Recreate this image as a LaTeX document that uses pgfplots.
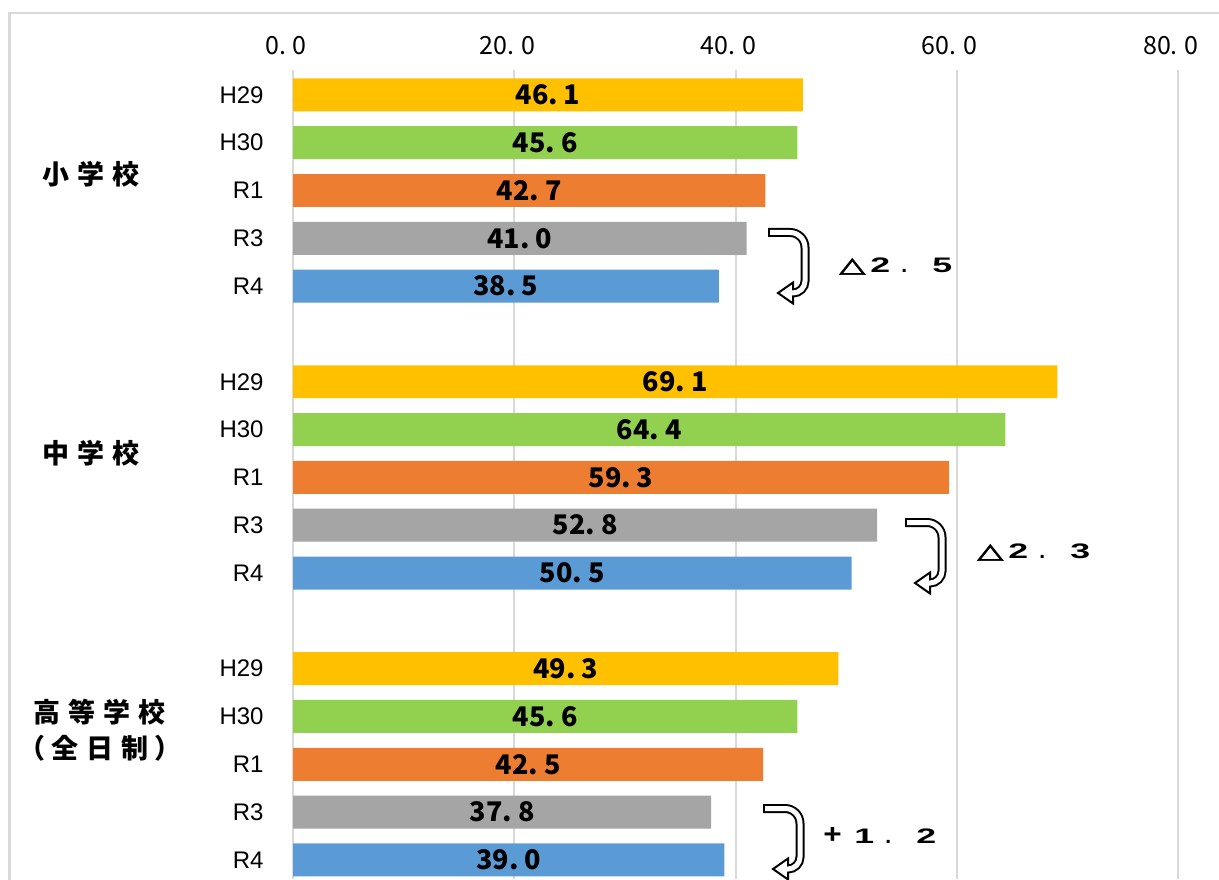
\documentclass[border=0pt]{standalone}
\usepackage{fontspec}
\usepackage{graphicx}
\usepackage{pgfplots}
\pgfplotsset{compat=1.18}
\usepackage{pgfplotstable}
\setmainfont{Liberation Sans}
\newfontfamily\jp{Noto Sans CJK JP}
\newfontfamily\trif[FakeBold=3]{DejaVu Sans}
\definecolor{cA}{HTML}{FFC000}
\definecolor{cB}{HTML}{92D050}
\definecolor{cC}{HTML}{ED7D31}
\definecolor{cD}{HTML}{A5A5A5}
\definecolor{cE}{HTML}{5B9BD5}
\definecolor{gridc}{HTML}{D9D9D9}
\newcommand\dd{.\kern3.5pt}
\newcommand\cell[1]{\makebox[15.5pt][l]{#1}}
\newcommand\sx[1]{\scalebox{1.7}[1]{#1}}
\newcommand\annf{\bfseries\fontsize{10.5pt}{12pt}\selectfont}
\newcommand\tri{{\trif\mdseries\scalebox{1.6}[1]{△}}}
\newcommand\glab{\jp\bfseries\fontsize{13.5pt}{16pt}\selectfont}

\pgfplotstableread{
y v
0 46.1
6 69.1
12 49.3
}\tA
\pgfplotstableread{
y v
1 45.6
7 64.4
13 45.6
}\tB
\pgfplotstableread{
y v
2 42.7
8 59.3
14 42.5
}\tC
\pgfplotstableread{
y v
3 41.0
9 52.8
15 37.8
}\tD
\pgfplotstableread{
y v
4 38.5
10 50.5
16 39.0
}\tE

\pgfplotsset{
  mybar/.style={xbar, bar width=0.69, bar shift=0pt, draw=none, fill=#1},
  lbl/.style={draw=none, mark=none, forget plot,
    point meta=explicit,
    nodes near coords={\pgfmathprintnumber[fixed,fixed zerofill,precision=1,dec sep={.\kern3pt}]{\pgfplotspointmeta}},
    nodes near coords align={anchor=center},
    every node near coord/.append style={anchor=center, inner sep=0pt,
      font=\jp\bfseries\fontsize{13.5pt}{15pt}\selectfont}},
}

\newcommand\uturn[2]{%
  \begin{scope}[shift={(#1,#2)}]
    \draw[line width=4.5pt, line cap=butt] (768,232.5) -- (790,232.5)
      .. controls (798.3,232.5) and (805,239.2) .. (805,247.5) -- (805,281)
      .. controls (805,287.6) and (799.6,293) .. (793,293) -- (787,293);
    \filldraw[fill=white, draw=black, line width=1pt, line join=miter]
      (778,293) -- (793,282.5) -- (793,303.5) -- cycle;
    \draw[white, line width=2.5pt, line cap=butt] (770,232.5) -- (790,232.5)
      .. controls (798.3,232.5) and (805,239.2) .. (805,247.5) -- (805,281)
      .. controls (805,287.6) and (799.6,293) .. (793,293) -- (787,293);
  \end{scope}}

\begin{document}
\begin{tikzpicture}
\path[use as bounding box] (-146.5pt,0pt) rectangle (463pt,439.5pt);
\begin{axis}[
  at={(0pt,0pt)}, anchor=south west, scale only axis,
  width=442.5pt, height=404.5pt,
  xmin=0, xmax=80, ymin=-0.52, ymax=16.4, y dir=reverse,
  axis line style={draw=none},
  xtick={0,20,40,60,80},
  xticklabels={0\dd0,20\dd0,40\dd0,60\dd0,80\dd0},
  xticklabel pos=upper,
  xmajorgrids, major grid style={gridc, line width=1pt},
  major tick length=0pt,
  xticklabel style={font=\jp\fontsize{12.5pt}{14pt}\selectfont, inner sep=0pt, yshift=7.5pt, xshift=-3.5pt},
  ytick={0,1,2,3,4,6,7,8,9,10,12,13,14,15,16},
  yticklabels={H29,H30,R1,R3,R4,H29,H30,R1,R3,R4,H29,H30,R1,R3,R4},
  yticklabel style={font=\fontsize{12pt}{14pt}\selectfont, inner sep=0pt, anchor=east, xshift=-14.5pt},
  clip=false,
  /pgf/number format/assume math mode=true,
]
\addplot[mybar=cA] table[x=v, y=y] {\tA};
\addplot[mybar=cB] table[x=v, y=y] {\tB};
\addplot[mybar=cC] table[x=v, y=y] {\tC};
\addplot[mybar=cD] table[x=v, y=y] {\tD};
\addplot[mybar=cE] table[x=v, y=y] {\tE};
\addplot[lbl] table[x expr=\thisrow{v}/2, y=y, meta=v] {\tA};
\addplot[lbl] table[x expr=\thisrow{v}/2, y=y, meta=v] {\tB};
\addplot[lbl] table[x expr=\thisrow{v}/2, y=y, meta=v] {\tC};
\addplot[lbl] table[x expr=\thisrow{v}/2, y=y, meta=v] {\tD};
\addplot[lbl] table[x expr=\thisrow{v}/2, y=y, meta=v] {\tE};
\end{axis}
\begin{scope}[shift={(-146.5pt,439.5pt)}, x=0.5pt, y=-0.5pt]
  \draw[gridc, line width=1.2pt] (9.5,1000) -- (9.5,13) -- (1300,13);
  \node[inner sep=0pt] at (91,174) {\glab 小\kern4pt 学\kern4pt 校};
  \node[inner sep=0pt] at (91,453) {\glab 中\kern4pt 学\kern4pt 校};
  \node[inner sep=0pt] at (99.5,712) {\glab 高\kern4pt 等\kern4pt 学\kern4pt 校};
  \node[inner sep=0pt] at (100,748) {\glab （\kern3pt 全\kern4pt 日\kern4pt 制\kern3pt ）};
  \uturn{0}{0}
  \uturn{137}{290}
  \uturn{-5}{576}
  \node[anchor=west, inner sep=0pt] at (839,266) {\annf\cell{\tri}\cell{\sx{2}}\cell{.}\sx{5}};
  \node[anchor=west, inner sep=0pt] at (977,552) {\annf\cell{\tri}\cell{\sx{2}}\cell{.}\sx{3}};
  \node[anchor=west, inner sep=0pt] at (823,835) {\annf\cell{\scalebox{1.5}[1.3]{+}}\cell{\sx{1}}\cell{.}\sx{2}};
\end{scope}
\end{tikzpicture}
\end{document}
